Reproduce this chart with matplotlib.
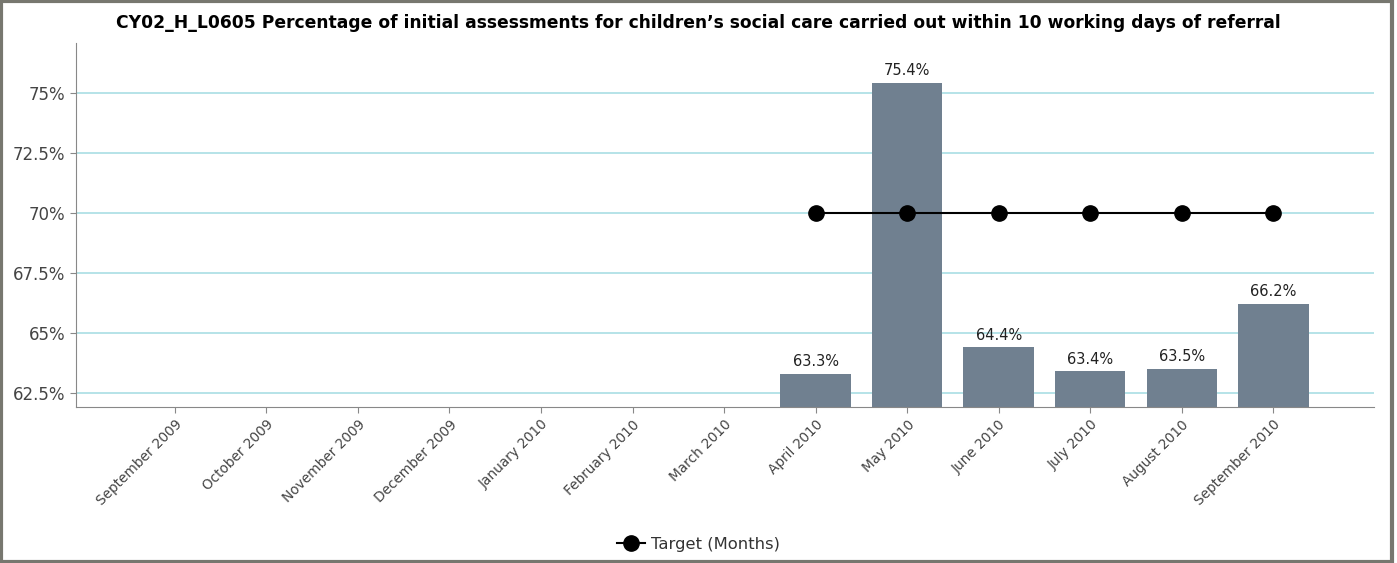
import matplotlib
matplotlib.use("Agg")
import matplotlib.pyplot as plt
from matplotlib.patches import Rectangle
from matplotlib.lines import Line2D

months = ["September 2009", "October 2009", "November 2009", "December 2009",
          "January 2010", "February 2010", "March 2010", "April 2010",
          "May 2010", "June 2010", "July 2010", "August 2010", "September 2010"]
bar_months = ["April 2010", "May 2010", "June 2010", "July 2010", "August 2010", "September 2010"]
bar_values = [63.3, 75.4, 64.4, 63.4, 63.5, 66.2]
target_months = ["April 2010", "May 2010", "June 2010", "July 2010", "August 2010", "September 2010"]
target_values = [70, 70, 70, 70, 70, 70]
y_ticks = [62.5, 65, 67.5, 70, 72.5, 75]
y_tick_labels = ["62.5%", "65%", "67.5%", "70%", "72.5%", "75%"]
title = "CY02_H_L0605 Percentage of initial assessments for children\u2019s social care carried out within 10 working days of referral"

plt.rcParams['font.family'] = ['DejaVu Sans']

fig = plt.figure(figsize=(13.97, 5.63), dpi=100)
ax = fig.add_axes([76/1397, 1 - 407/563, (1374-76)/1397, (407-43)/563])

idx = {m: i for i, m in enumerate(months)}
bx = [idx[m] for m in bar_months]
tx = [idx[m] for m in target_months]

ax.bar(bx, bar_values, width=0.77, color="#708090", zorder=2)
for x, v in zip(bx, bar_values):
    ax.annotate(f"{v:.1f}%", (x, v), xytext=(0, 3.5), textcoords="offset points",
                ha="center", va="bottom", fontsize=10.5, color="#222222")

ax.plot(tx, target_values, color="black", lw=1.5, marker="o", ms=11, zorder=3,
        label="Target (Months)")

ax.set_xlim(-1.08, 13.1)
ax.set_ylim(61.92, 77.08)
ax.set_yticks(y_ticks)
ax.set_yticklabels(y_tick_labels, fontsize=12, color="#444444")
ax.set_xticks(range(len(months)))
ax.set_xticklabels(months, rotation=45, ha="right", rotation_mode="anchor",
                   fontsize=9.8, color="#444444")
ax.grid(axis="y", color="#b0e0e6", lw=1.3, zorder=0)
ax.set_axisbelow(True)
for s in ["top", "right"]:
    ax.spines[s].set_visible(False)
for s in ["left", "bottom"]:
    ax.spines[s].set_color("#888888")
ax.tick_params(axis="both", colors="#888888", length=4, labelcolor="#444444")

fig.text(0.5, 1 - 23/563, title, ha="center", va="center", fontsize=12.3,
         fontweight="bold", color="black")

handle = Line2D([], [], color="black", lw=1.5, marker="o", ms=11)
fig.legend([handle], ["Target (Months)"], loc="center", bbox_to_anchor=(0.5, 1 - 544/563),
           frameon=False, fontsize=11.8, handlelength=1.7, handletextpad=0.4,
           labelcolor="#333333")

fig.patches.append(Rectangle((1/1397, 1/563), 1391/1397, 1 - 2/563, transform=fig.transFigure,
                             fill=False, edgecolor="#77776f", lw=3))

fig.savefig("out.png", dpi=100)
